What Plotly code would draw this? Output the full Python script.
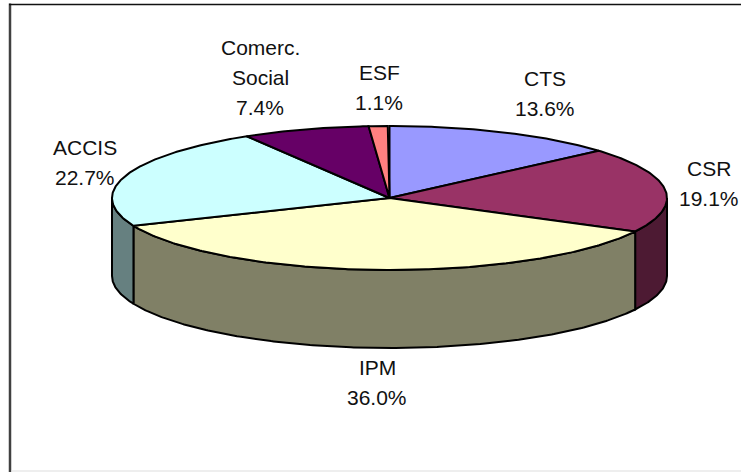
import numpy as np
import plotly.graph_objects as go

categories = ["CTS", "CSR", "IPM", "ACCIS", "Comerc.<br>Social", "ESF"]
values = [13.6, 19.1, 36.0, 22.7, 7.4, 1.1]
top_colors = ["#9999FF", "#993366", "#FFFFCC", "#CCFFFF", "#660066", "#FF8080"]
side_colors = ["#4D4D80", "#4D1A33", "#808066", "#668080", "#330033", "#804040"]

# label anchor (pixel centre of the last line)
label_xy = [(545, 108), (709, 198), (377, 397), (85, 177), (260, 107), (379, 102)]

CX, CY, RX, RY, DEPTH = 389.5, 198, 277.5, 72, 78
LINE_H = 30
FONT = dict(family="Liberation Sans, Arial, sans-serif", size=21, color="#111111")


def ellipse(a, dy=0.0):
    return CX + RX * np.sin(a), CY - RY * np.cos(a) + dy


def arc(a0, a1):
    n = max(2, int(abs(a1 - a0) / 0.01))
    return np.linspace(a0, a1, n)


fig = go.Figure()
edges = np.radians(np.cumsum([0] + values) * 3.6)

# side walls: only the front half of the cylinder is visible
for i in range(len(values)):
    a0 = max(edges[i], np.pi / 2)
    a1 = min(edges[i + 1], 3 * np.pi / 2)
    if a1 <= a0:
        continue
    a = arc(a0, a1)
    xt, yt = ellipse(a)
    xb, yb = ellipse(a[::-1], DEPTH)
    fig.add_trace(go.Scatter(
        x=np.r_[xt, xb, xt[0]], y=np.r_[yt, yb, yt[0]], mode="lines", fill="toself",
        fillcolor=side_colors[i], line=dict(color="black", width=2),
        hoverinfo="skip", showlegend=False))

# top faces
for i, name in enumerate(categories):
    a = arc(edges[i], edges[i + 1])
    x, y = ellipse(a)
    fig.add_trace(go.Scatter(
        x=np.r_[CX, x, CX], y=np.r_[CY, y, CY], mode="lines", fill="toself",
        fillcolor=top_colors[i], line=dict(color="black", width=2),
        name=name.replace("<br>", " "), hoverinfo="name", showlegend=False))

# labels, one line at a time to keep the original line spacing
for name, v, (lx, ly) in zip(categories, values, label_xy):
    lines = name.split("<br>") + [f"{v:.1f}%"]
    for k, line in enumerate(lines):
        fig.add_annotation(x=lx, y=ly - (len(lines) - 1 - k) * LINE_H, text=line,
                           showarrow=False, font=FONT, xanchor="center", yanchor="middle")

fig.update_layout(
    width=741, height=472, margin=dict(l=0, r=0, t=0, b=0),
    paper_bgcolor="white", plot_bgcolor="white", showlegend=False,
    xaxis=dict(range=[0, 741], visible=False, fixedrange=True),
    yaxis=dict(range=[472, 0], visible=False, fixedrange=True),
    shapes=[
        dict(type="line", xref="x", yref="y", x0=10, y0=3.5, x1=10, y1=472,
             line=dict(color="#404040", width=2.5), layer="below"),
        dict(type="line", xref="x", yref="y", x0=9, y0=4.5, x1=741, y1=4.5,
             line=dict(color="#111111", width=1.5), layer="below"),
        dict(type="line", xref="x", yref="y", x0=11, y0=471, x1=741, y1=471,
             line=dict(color="#DDDDDD", width=1), layer="below"),
    ],
)
fig.write_html("out.html", config=dict(displayModeBar=False),
               post_script="document.body.style.margin='0';document.body.style.overflow='hidden';")
